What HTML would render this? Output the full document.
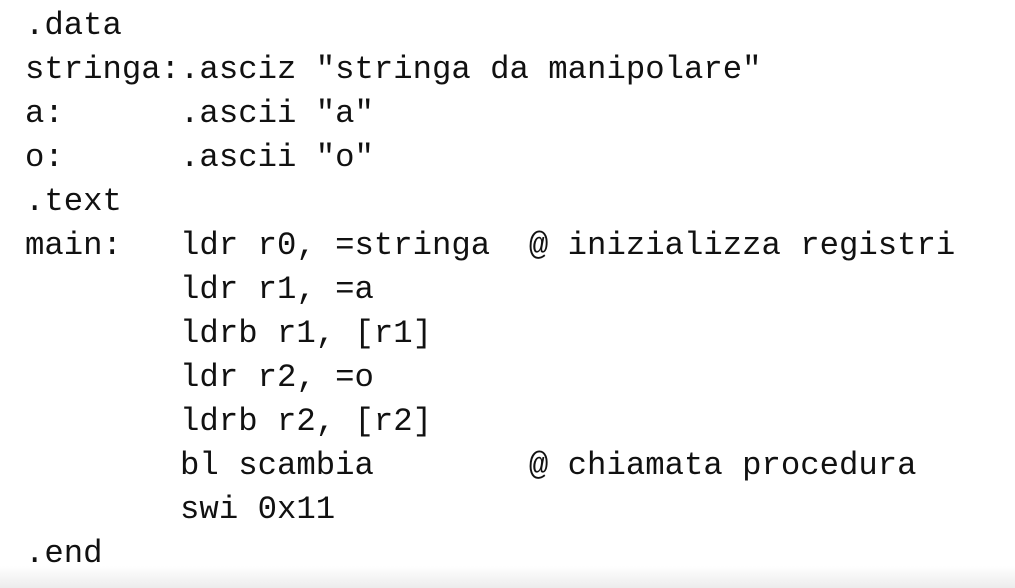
<!DOCTYPE html>
<html><head><style>
html,body{margin:0;padding:0;width:1015px;height:588px;overflow:hidden;background:#fff;}
pre{position:absolute;left:25px;top:4px;margin:0;font-family:"Liberation Mono",monospace;font-size:32.3px;line-height:44px;color:#111;}
.bar{position:absolute;left:0;top:566px;width:1015px;height:22px;background:linear-gradient(#fff,#ececec);}
</style></head><body>
<pre>.data
stringa:.asciz "stringa da manipolare"
a:      .ascii "a"
o:      .ascii "o"
.text
main:   ldr r0, =stringa  @ inizializza registri
        ldr r1, =a
        ldrb r1, [r1]
        ldr r2, =o
        ldrb r2, [r2]
        bl scambia        @ chiamata procedura
        swi 0x11
.end</pre>
<div class="bar"></div>
</body></html>
